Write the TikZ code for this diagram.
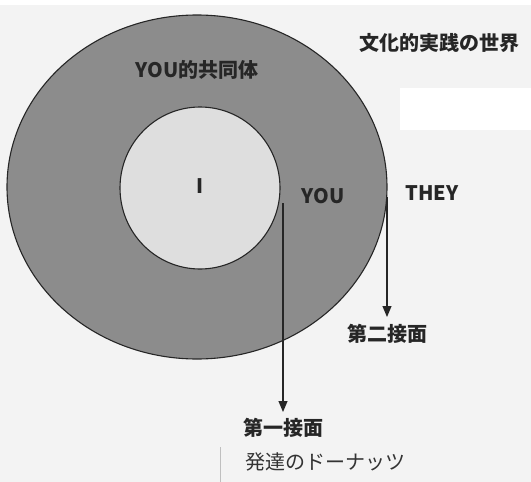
\documentclass[tikz,border=0pt]{standalone}
\usepackage{fontspec}
\setmainfont{Noto Sans CJK JP}
\newfontfamily\jpfont{Noto Sans CJK JP}
\usetikzlibrary{arrows.meta}
\definecolor{bgcol}{HTML}{F3F3F3}
\definecolor{ringcol}{HTML}{8C8C8C}
\definecolor{corecol}{HTML}{DEDEDE}
\tikzset{
  lbl/.style={font=\jpfont\bfseries\fontsize{20}{22}\selectfont, text=black!85, inner sep=0pt},
  caption/.style={font=\jpfont\fontsize{20}{22}\selectfont, text=black!80, inner sep=0pt},
  conn/.style={draw=black!85, line width=1.1pt, -{Triangle[length=11pt,width=9pt]}},
  rim/.style={draw=black!85, line width=1.1pt}
}
\begin{document}
\begin{tikzpicture}[x=1pt,y=-1pt]
\useasboundingbox (0,0) rectangle (531,482);
\fill[bgcol] (0,0) rectangle (531,482);
\fill[white] (0,0) rectangle (531,5);
\fill[white] (400,88) rectangle (531,130);
% outer ellipse and inner circle
\path[rim, fill=ringcol] (197,187) ellipse [x radius=190, y radius=172];
\path[rim, fill=corecol] (200,188) ellipse [x radius=80, y radius=81];
% faint seam
\draw[black!25, line width=0.6pt] (220,447) -- (220,482);
% labels
\node[lbl] (comm) at (197,70) {YOU的共同体};
\node[lbl] (world) at (439,43) {文化的実践の世界};
\node[lbl] (me) at (200,186) {I};
\node[lbl] (you) at (323,196) {YOU};
\node[lbl] (they) at (432,193) {THEY};
\node[lbl] (second) at (387,334) {第二接面};
\node[lbl] (first) at (283,428) {第一接面};
\node[caption] (cap) at (325,462) {発達のドーナッツ};
% connectors
\coordinate (s1) at (283,203);
\coordinate (e1) at (283,412);
\coordinate (s2) at (387,197);
\coordinate (e2) at (387,317);
\draw[conn] (s1) -- (e1);
\draw[conn] (s2) -- (e2);
\end{tikzpicture}
\end{document}
